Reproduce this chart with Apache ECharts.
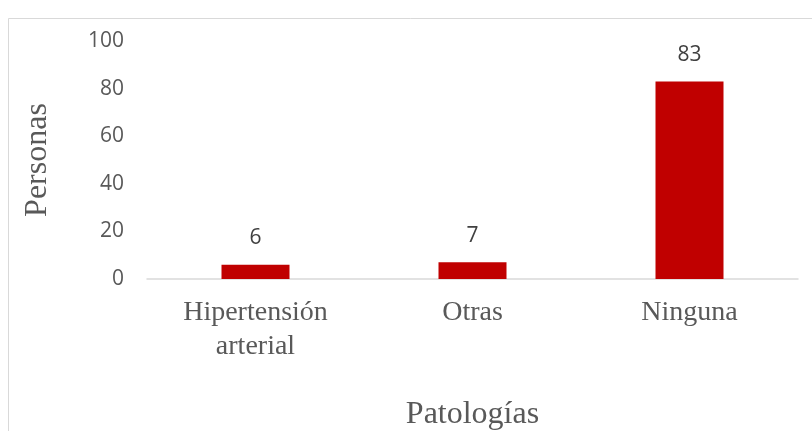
<!DOCTYPE html>
<html>
<head>
<meta charset="utf-8">
<script src="https://cdn.jsdelivr.net/npm/echarts@6/dist/echarts.min.js"></script>
<style>
  html, body { margin: 0; padding: 0; background: #fff; }
  #main { width: 812px; height: 431px; }
</style>
</head>
<body>
<div id="main"></div>
<script>
// datos
var categorias = ['Hipertensión\narterial', 'Otras', 'Ninguna'];
var personas = [6, 7, 83];
var yTicks = [0, 20, 40, 60, 80, 100];

var myChart = echarts.init(document.getElementById('main'));

var option = {
  backgroundColor: '#fff',
  animation: false,
  graphic: [{ // marco del grafico
    type: 'rect',
    shape: { x: 8.5, y: 18.5, width: 900, height: 500 },
    style: { fill: 'none', stroke: '#d9d9d9', lineWidth: 1 }
  }],
  grid: { left: 147, right: 14, top: 41, bottom: 152, outerBoundsMode: 'none', containLabel: false },
  xAxis: {
    type: 'category',
    data: categorias,
    name: 'Patologías',
    nameLocation: 'middle',
    nameGap: 120,
    nameTextStyle: { fontFamily: 'Liberation Serif', fontSize: 32, color: '#595959' },
    axisLine: { lineStyle: { color: '#d9d9d9', width: 1.5 } },
    axisTick: { show: false },
    axisLabel: {
      interval: 0,
      margin: 17,
      verticalAlign: 'top',
      fontFamily: 'Liberation Serif',
      fontSize: 28,
      lineHeight: 34,
      color: '#595959'
    }
  },
  yAxis: {
    type: 'value',
    min: yTicks[0],
    max: yTicks[yTicks.length - 1],
    interval: 20,
    name: 'Personas',
    nameLocation: 'middle',
    nameGap: 93,
    nameTextStyle: { fontFamily: 'Liberation Serif', fontSize: 32, color: '#595959' },
    axisLine: { show: false },
    axisTick: { show: false },
    splitLine: { show: false },
    axisLabel: {
      margin: 23,
      fontFamily: 'Open Sans',
      fontSize: 21,
      color: '#595959'
    }
  },
  series: [{
    name: 'Personas',
    type: 'bar',
    data: personas,
    barWidth: 68,
    itemStyle: { color: '#C00000' },
    label: {
      show: true,
      position: 'top',
      distance: 16,
      fontFamily: 'Open Sans',
      fontSize: 21,
      color: '#404040'
    }
  }]
};

myChart.setOption(option);
</script>
</body>
</html>
